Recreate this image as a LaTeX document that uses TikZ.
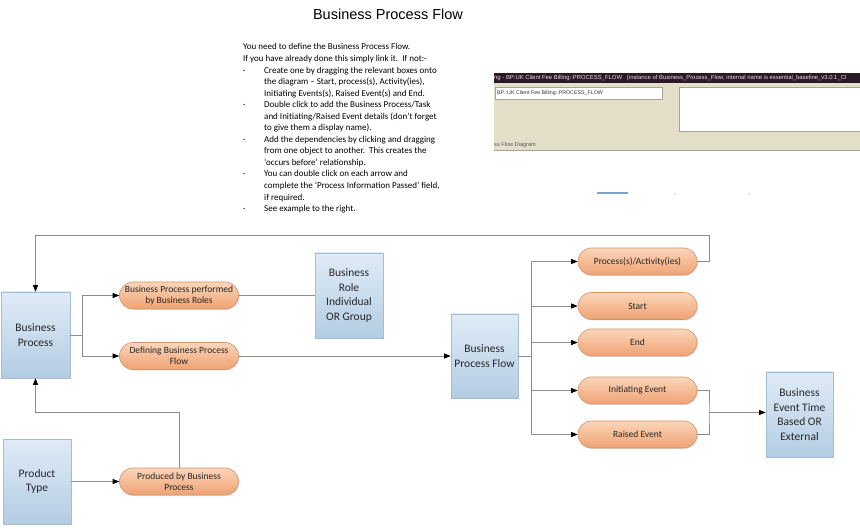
\documentclass[tikz,border=0pt]{standalone}
\usepackage{fontspec}
\setmainfont{Carlito}
\newfontfamily\arialfont{Liberation Sans}
\usetikzlibrary{arrows.meta,shadows}
\definecolor{boxtop}{HTML}{E0ECF7}
\definecolor{boxbot}{HTML}{B3CCE3}
\definecolor{boxline}{HTML}{A3BDD6}
\definecolor{pilltop}{HTML}{FBD6BA}
\definecolor{pillbot}{HTML}{EFA272}
\definecolor{pillline}{HTML}{CF946B}
\definecolor{conncol}{HTML}{8C8C8C}
\definecolor{txtcol}{HTML}{262626}
\definecolor{barcol}{HTML}{2A1A25}
\definecolor{bartext}{HTML}{F2D6E6}
\definecolor{beige}{HTML}{E3DFC8}
\definecolor{shotline}{HTML}{A8A595}
\definecolor{blueline}{HTML}{7FA0CF}
\definecolor{orangemark}{HTML}{F7C9A6}
\begin{document}
\begin{tikzpicture}[x=1pt,y=-1pt,
  entity/.style={draw=boxline, line width=0.6pt, top color=boxtop, bottom color=boxbot,
    minimum width=68pt, minimum height=85pt, align=center, text=txtcol, inner sep=1pt,
    font=\fontsize{11.5}{14.5}\selectfont,
    drop shadow={shadow xshift=1.2pt,shadow yshift=-1.2pt,opacity=0.25}},
  pill/.style={draw=pillline, line width=0.6pt, top color=pilltop, bottom color=pillbot,
    rounded corners=13.5pt, minimum width=119pt, minimum height=27pt, align=center,
    text=txtcol, inner sep=1pt, font=\fontsize{9.5}{11}\selectfont,
    drop shadow={shadow xshift=1pt,shadow yshift=-1pt,opacity=0.25}},
  conn/.style={draw=conncol, line width=0.7pt},
  arr/.style={conn, -{Triangle[length=6.5pt,width=5pt,color=black]}}
]
\useasboundingbox (0,0) rectangle (860,529);

% title
\node[font=\arialfont\fontsize{14.5}{17}\selectfont, text=black] (title) at (388,14) {Business Process Flow};

% instructions
\node[anchor=north west, align=left, inner sep=0pt, text=black,
  font=\fontsize{9}{11.55}\selectfont] (instr) at (243,43.5) {%
You need to define the Business Process Flow.\\
If you have already done this simply link it.\ \ If not:-\\
\makebox[21pt][l]{·}Create one by dragging the relevant boxes onto\\
\hspace*{21pt}the diagram – Start, process(s), Activity(ies),\\
\hspace*{21pt}Initiating Events(s), Raised Event(s) and End.\\
\makebox[21pt][l]{·}Double click to add the Business Process/Task\\
\hspace*{21pt}and Initiating/Raised Event details (don’t forget\\
\hspace*{21pt}to give them a display name).\\
\makebox[21pt][l]{·}Add the dependencies by clicking and dragging\\
\hspace*{21pt}from one object to another.\ \ This creates the\\
\hspace*{21pt}‘occurs before’ relationship.\\
\makebox[21pt][l]{·}You can double click on each arrow and\\
\hspace*{21pt}complete the ‘Process Information Passed’ field,\\
\hspace*{21pt}if required.\\
\makebox[21pt][l]{·}See example to the right.};

% screenshot
\begin{scope}
\clip (494,60) rectangle (860,200);
\fill[barcol] (494,73) rectangle (860,83);
\fill[beige] (494,83) rectangle (860,150);
\draw[shotline, line width=0.8pt] (494,150) -- (860,150);
\filldraw[fill=white, draw=shotline, line width=0.6pt] (495,87) rectangle (662,99);
\filldraw[fill=white, draw=shotline, line width=0.6pt] (679,87) rectangle (866,131);
\node[anchor=west, inner sep=0pt, text=bartext, font=\arialfont\fontsize{5.9}{6}\selectfont] (bartxt) at (494,78)
  {ng - BP:UK Client Fee Billing::PROCESS\_FLOW\ \ \ (instance of Business\_Process\_Flow, internal name is essential\_baseline\_v3.0.1\_Cl};
\node[anchor=west, inner sep=0pt, text=black!80, font=\arialfont\fontsize{5.3}{6}\selectfont] (fieldtxt) at (497,93)
  {BP::UK Client Fee Billing::PROCESS\_FLOW};
\node[anchor=west, inner sep=0pt, text=black!65, font=\arialfont\fontsize{5.6}{6}\selectfont] (diagtxt) at (494,145)
  {ss Flow Diagram};
\end{scope}
\draw[blueline, line width=2pt] (597,193.5) -- (628,193.5);
\fill[orangemark] (675,194) circle (1pt);
\fill[orangemark] (749,194) circle (1pt);

% entities
\node[entity, minimum width=69pt, minimum height=86pt] (bp) at (35.5,335) {Business\\Process};
\node[entity] (pt) at (37,481.5) {Product\\Type};
\node[entity] (br) at (349,295.5) {Business\\Role\\Individual\\OR Group};
\node[entity, minimum width=67pt, minimum height=84pt] (bpf) at (484.5,356) {Business\\Process Flow};
\node[entity, minimum width=67pt] (be) at (799.5,414.5) {Business\\Event Time\\Based OR\\External};

% pills
\node[pill] (p1) at (179,295.5) {Business Process performed\\by Business Roles};
\node[pill] (p2) at (179,356) {Defining Business Process\\Flow};
\node[pill] (p3) at (179,481.5) {Produced by Business\\Process};
\node[pill] (p4) at (637.5,261.5) {Process(s)/Activity(ies)};
\node[pill] (p5) at (637.5,306) {Start};
\node[pill] (p6) at (637.5,342.5) {End};
\node[pill] (p7) at (637.5,390.5) {Initiating Event};
\node[pill] (p8) at (637.5,434.5) {Raised Event};

% junction coordinates
\coordinate (j1) at (82,335);
\coordinate (j2) at (531,356);
\coordinate (j3) at (709,412.5);
\coordinate (loopR) at (709,235);
\coordinate (bl) at (35.5,412);

% connectors
\draw[conn] (bp.east) -- (j1);
\draw[arr] (j1) |- (p1.west);
\draw[arr] (j1) |- (p2.west);
\draw[conn] (p1.east) -- (br.west);
\draw[arr] (p2.east) -- (bpf.west);
\draw[arr] (pt.east) -- (p3.west);
\draw[arr] (p3.north) |- (bl) -- (bp.south);
\draw[arr] (p4.east) -| (loopR) -| (bp.north);
\draw[conn] (bpf.east) -- (j2);
\foreach \p in {p4,p5,p6,p7,p8}{\draw[arr] (j2) |- (\p.west);}
\draw[conn] (p7.east) -| (j3) |- (p8.east);
\draw[arr] (j3) -- (be.west |- j3);
\end{tikzpicture}
\end{document}
